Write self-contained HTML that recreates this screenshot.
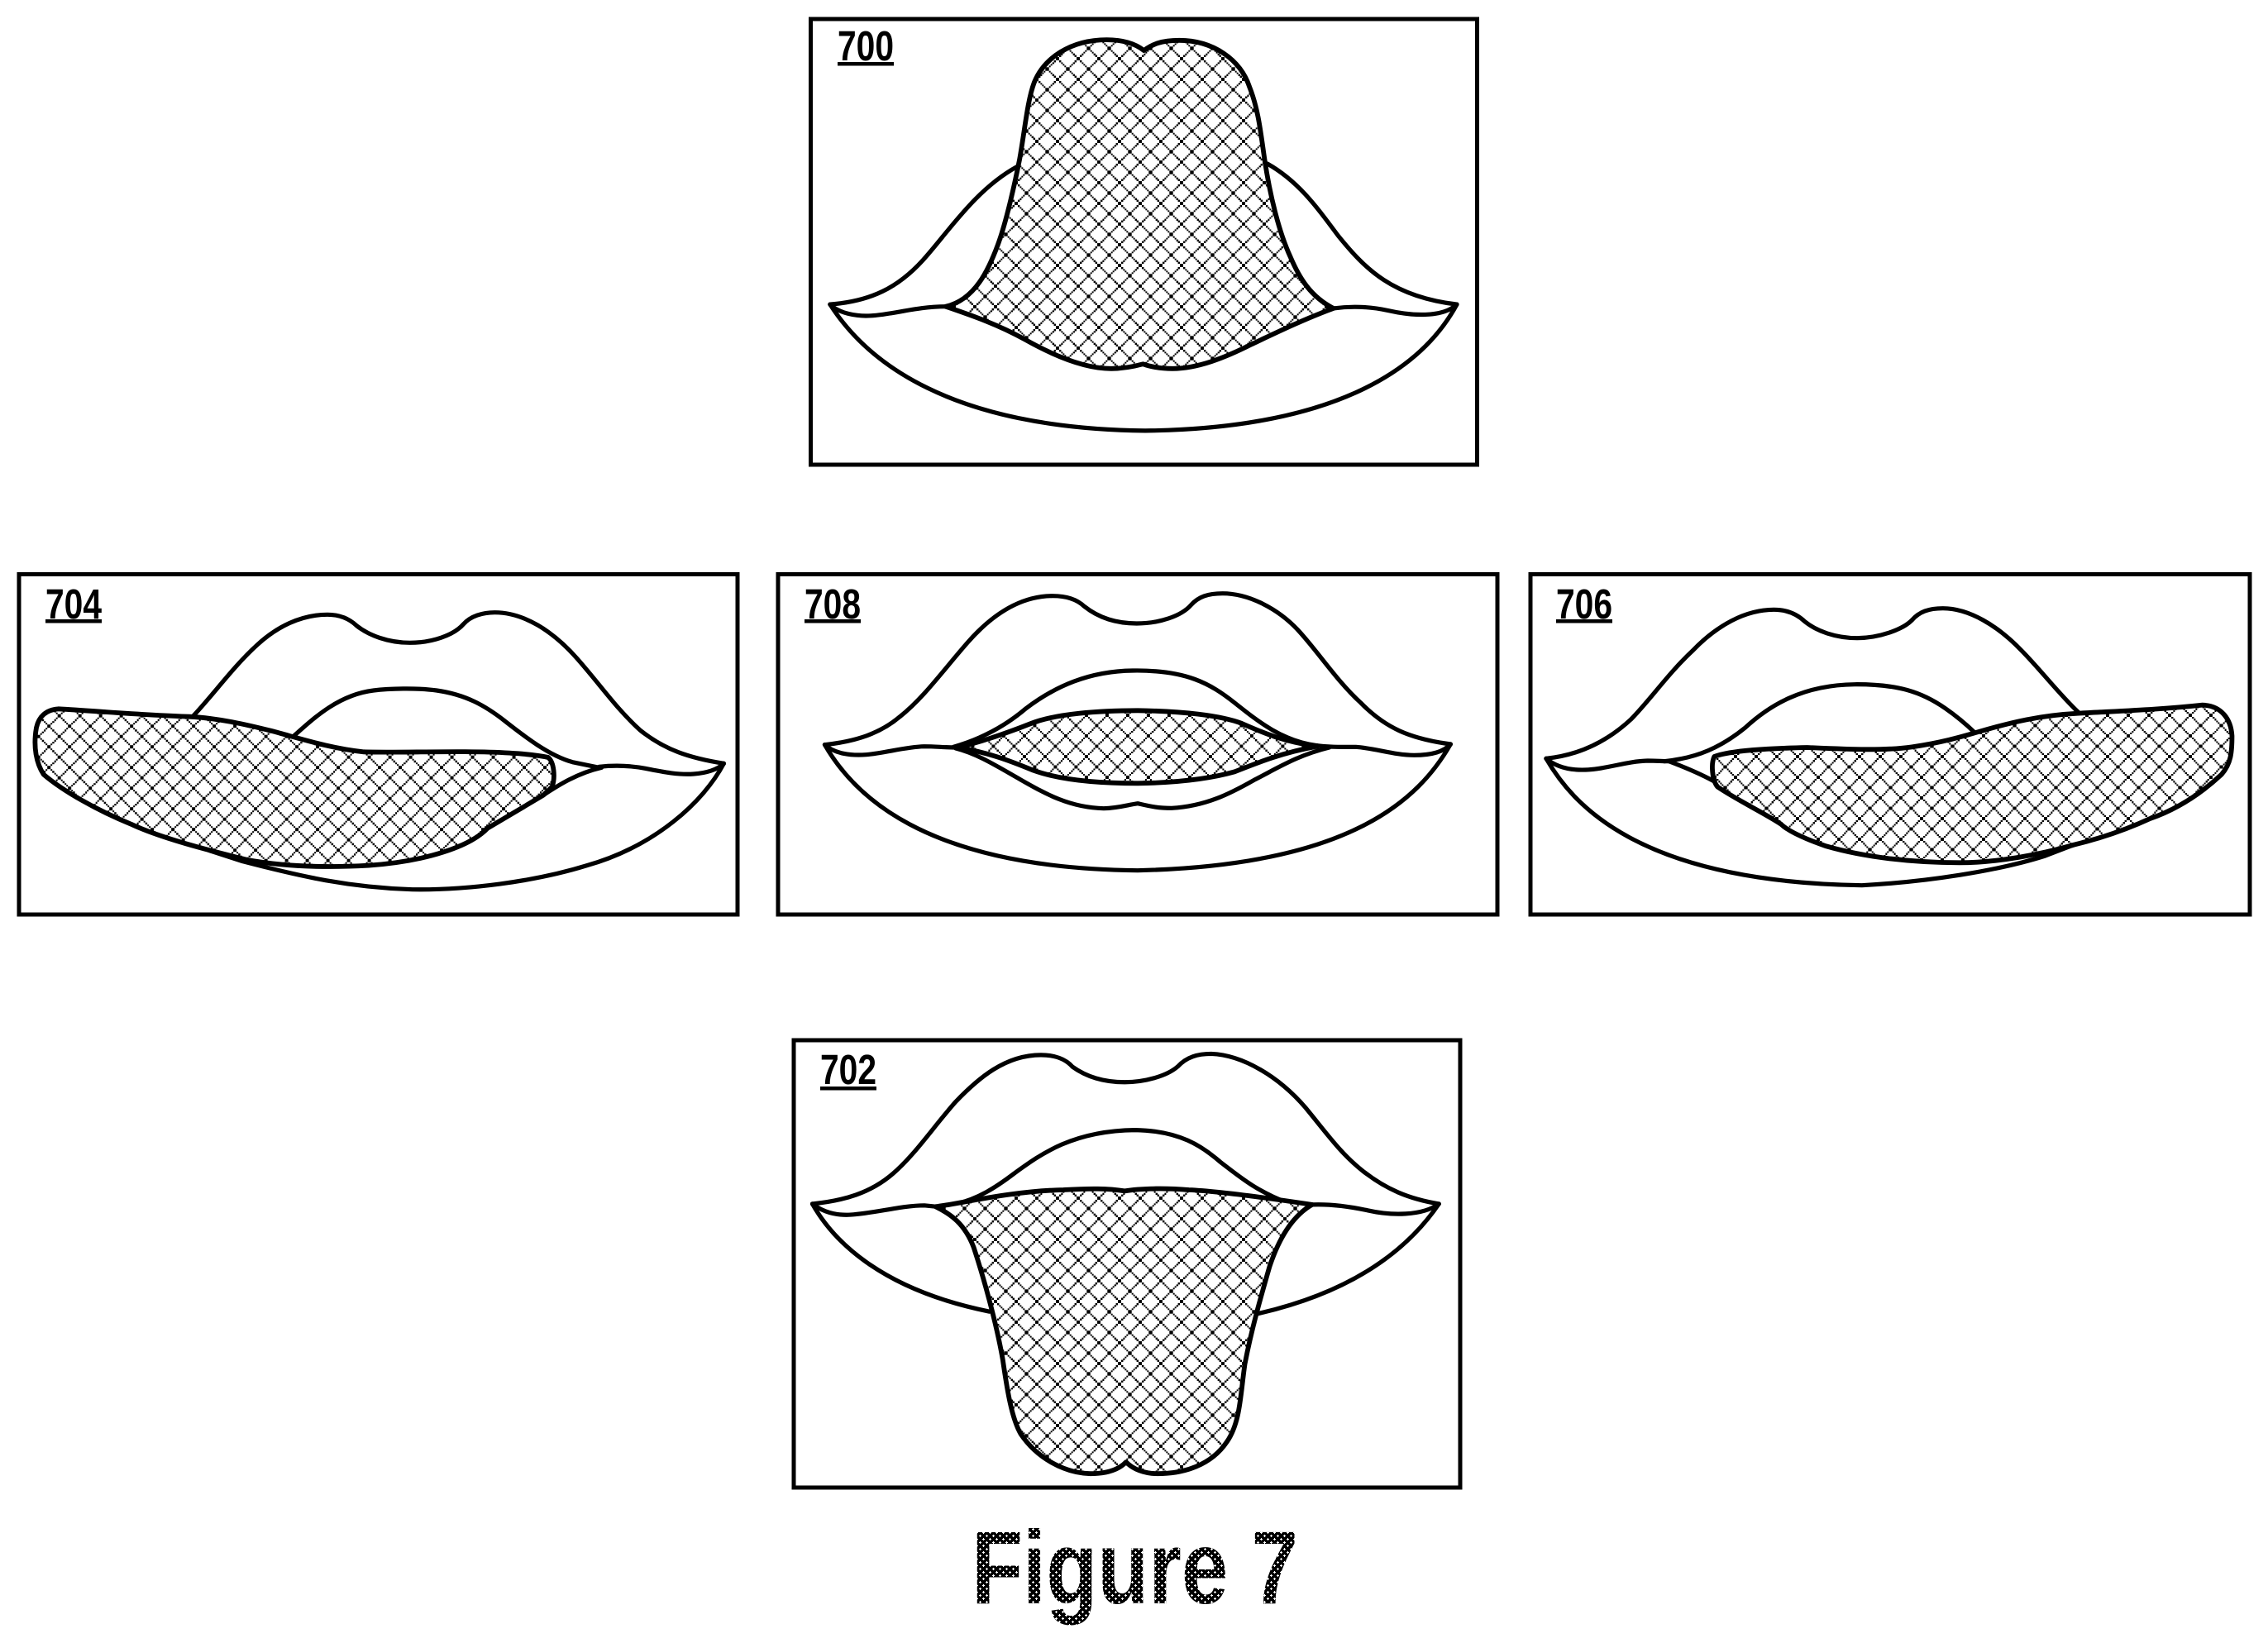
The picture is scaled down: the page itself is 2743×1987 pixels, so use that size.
<!DOCTYPE html>
<html><head><meta charset="utf-8"><style>
html,body{margin:0;padding:0;background:#fff}
svg{display:block}
.l path{fill:none;stroke:#000;stroke-width:5.2;stroke-linejoin:round;stroke-linecap:round;vector-effect:non-scaling-stroke}
.l path.t{stroke-width:5.8}
rect.f{fill:none;stroke:#000;stroke-width:5}
text{font-family:"Liberation Sans",sans-serif;font-weight:bold;fill:#000}
</style></head><body>
<svg xmlns="http://www.w3.org/2000/svg" width="2743" height="1987" viewBox="0 0 2743 1987">
<defs>
<g id="tile"><rect width="25" height="25" fill="#fff"/><path shape-rendering="crispEdges" fill="#000" d="M0,0h2.1v2.1h-2.1zM2.08,2.08h2.1v2.1h-2.1zM4.17,4.17h2.1v2.1h-2.1zM6.25,6.25h2.1v2.1h-2.1zM8.33,8.33h2.1v2.1h-2.1zM10.42,10.42h2.1v2.1h-2.1zM12.5,12.5h2.1v2.1h-2.1zM14.58,14.58h2.1v2.1h-2.1zM16.67,16.67h2.1v2.1h-2.1zM18.75,18.75h2.1v2.1h-2.1zM20.83,20.83h2.1v2.1h-2.1zM22.92,22.92h2.1v2.1h-2.1zM22.92,0h2.1v2.1h-2.1zM20.83,2.08h2.1v2.1h-2.1zM18.75,4.17h2.1v2.1h-2.1zM16.67,6.25h2.1v2.1h-2.1zM14.58,8.33h2.1v2.1h-2.1zM12.5,10.42h2.1v2.1h-2.1zM10.42,12.5h2.1v2.1h-2.1zM8.33,14.58h2.1v2.1h-2.1zM6.25,16.67h2.1v2.1h-2.1zM4.17,18.75h2.1v2.1h-2.1zM2.08,20.83h2.1v2.1h-2.1zM0,22.92h2.1v2.1h-2.1z"/></g>
<pattern id="p1" width="25" height="25" patternUnits="userSpaceOnUse" patternTransform="scale(1.823 2.703) translate(-6 21)"><use href="#tile"/></pattern>
<pattern id="p2" width="25" height="25" patternUnits="userSpaceOnUse" patternTransform="scale(1.704 3) translate(21.7 10.7)"><use href="#tile"/></pattern>
<pattern id="p3" width="25" height="25" patternUnits="userSpaceOnUse" patternTransform="scale(1.704 3) translate(9 10)"><use href="#tile"/></pattern>
<pattern id="p4" width="25" height="25" patternUnits="userSpaceOnUse" patternTransform="scale(1.736 3) translate(9 10)"><use href="#tile"/></pattern>
<pattern id="p5" width="25" height="25" patternUnits="userSpaceOnUse" patternTransform="scale(1.845 2.127) translate(4 24)"><use href="#tile"/></pattern>
<pattern id="fg" width="8" height="8" patternUnits="userSpaceOnUse"><rect width="8" height="8" fill="#000"/><path d="M1,0h1v1h1v1h-1v1h-1v-1h-1v-1h1zM5,4h1v1h1v1h-1v1h-1v-1h-1v-1h1z" fill="#fff"/></pattern>
</defs>
<rect width="2743" height="1987" fill="#fff"/>

<rect class="f" x="980.5" y="23" width="806" height="539"/>
<rect class="f" x="23" y="694.5" width="869" height="411.5"/>
<rect class="f" x="941" y="694.5" width="870" height="411.5"/>
<rect class="f" x="1851" y="694.5" width="870" height="411.5"/>
<rect class="f" x="960" y="1258" width="806" height="541"/>

<!-- 700 -->
<g class="l" transform="translate(960 0) scale(0.54855 0.36996)">
<path d="M80,995 C170,985 230,940 285,850 C340,760 400,620 492,545"/>
<path d="M1044,535 C1110,590 1150,670 1200,770 C1260,880 1320,970 1462,995"/>
<path d="M80,995 C100,1025 140,1035 170,1032 C220,1028 270,1002 335,1002"/>
<path d="M1190,1008 C1230,1000 1270,1002 1310,1015 C1360,1032 1430,1040 1462,995"/>
<path d="M80,995 C160,1180 340,1400 775,1408 C1180,1400 1380,1220 1462,995"/>
<path class="t" style="fill:url(#p1)" d="M335,1002 C400,980 430,880 450,800 C470,720 490,580 498,520 C510,420 515,330 530,270 C552,190 610,130 690,130 C730,130 755,145 772,165 C790,145 810,132 850,132 C925,132 985,195 1005,285 C1025,360 1030,440 1038,520 C1050,640 1070,760 1095,840 C1115,910 1140,970 1190,1008 C1130,1040 1060,1090 1010,1125 C950,1170 890,1205 835,1205 C805,1205 785,1198 770,1190 C750,1198 725,1205 700,1205 C640,1205 570,1160 510,1110 C450,1060 390,1030 335,1002Z"/>
</g>

<!-- 704 -->
<g class="l" transform="translate(0 680) scale(0.58673 0.33333)">
<path d="M397,560 C440,480 480,380 530,300 C570,235 620,190 675,190 C700,190 720,205 735,230 C760,265 800,292 845,292 C890,292 935,265 955,225 C970,195 995,182 1020,182 C1080,182 1140,250 1190,350 C1240,450 1270,530 1320,610 C1370,680 1420,710 1492,730"/>
<path d="M607,628 C650,560 700,480 770,465 C800,458 860,455 900,465 C960,480 1000,520 1040,575 C1080,630 1130,700 1180,725 L1235,745"/>
<path d="M1235,742 C1270,735 1300,738 1330,748 C1370,762 1400,772 1430,768 C1455,765 1480,752 1492,730"/>
<path d="M1240,745 C1190,765 1150,810 1120,845 L1005,965"/>
<path d="M1492,730 C1450,870 1350,1030 1210,1100 C1100,1160 960,1190 850,1187 C720,1180 620,1140 500,1085 L430,1045"/>
<path class="t" style="fill:url(#p2)" d="M120,532 C200,540 300,555 390,560 C450,565 510,590 560,612 C620,640 680,675 750,688 C820,692 960,682 1050,692 C1080,695 1110,700 1130,708 C1142,725 1145,780 1138,815 L1120,845 L1005,965 C970,1030 880,1085 760,1100 C680,1108 590,1105 510,1080 C430,1045 330,1000 270,950 C200,900 130,830 90,770 C75,730 68,670 75,600 C80,560 95,535 120,532Z"/>
</g>

<!-- 708 -->
<g class="l" transform="translate(930 680) scale(0.58673 0.33333)">
<path d="M115,662 C180,650 230,620 270,560 C320,490 360,390 410,290 C450,210 510,122 585,122 C615,122 635,135 650,160 C675,195 710,222 758,222 C805,222 850,195 870,155 C885,125 905,113 935,113 C990,113 1050,170 1090,245 C1130,320 1170,430 1220,510 C1270,600 1320,640 1405,660"/>
<path d="M380,670 C440,640 490,590 530,530 C590,450 660,395 750,393 C860,390 910,440 960,510 C1010,580 1060,650 1130,665"/>
<path d="M115,662 C135,695 170,702 200,698 C240,692 280,670 320,668 C345,668 360,672 385,672"/>
<path d="M1130,665 C1160,672 1190,670 1210,670 C1250,675 1290,700 1330,700 C1360,700 1390,690 1405,660"/>
<path d="M385,675 C430,695 470,740 520,790 C570,840 620,890 690,893 C720,892 740,880 760,875 C785,885 800,892 830,892 C900,885 950,840 1000,790 C1050,745 1090,700 1155,672"/>
<path d="M115,662 C170,830 310,1110 760,1118 C1200,1100 1340,860 1405,660"/>
<path class="t" style="fill:url(#p3)" d="M390,672 C440,650 490,620 540,585 C590,550 680,538 760,538 C850,540 930,555 975,585 C1020,620 1060,650 1130,668 C1060,690 1010,725 960,760 C900,790 830,800 760,802 C680,802 600,790 545,755 C490,715 450,690 390,672Z"/>
</g>

<!-- 706 -->
<g class="l" transform="translate(1840 680) scale(0.57604 0.33333)">
<path d="M52,712 C120,700 180,650 230,570 C270,500 310,400 360,320 C410,230 470,172 530,172 C560,172 580,190 595,215 C620,250 660,275 705,275 C750,275 800,245 820,210 C835,180 855,167 885,167 C940,167 1000,230 1050,320 C1090,390 1130,480 1170,545"/>
<path d="M300,722 C370,710 420,670 470,600 C520,520 590,445 700,443 C790,442 840,470 890,530 C915,560 935,590 952,618"/>
<path d="M52,712 C75,745 105,755 135,753 C180,750 220,722 265,720 C285,720 295,722 310,722"/>
<path d="M310,722 C345,745 380,770 410,800"/>
<path d="M52,712 C105,870 240,1160 715,1172 C850,1160 1000,1120 1100,1065 L1160,1025"/>
<path class="t" style="fill:url(#p4)" d="M405,705 C440,682 520,675 600,672 C680,678 760,685 820,670 C880,655 920,635 960,615 C1030,580 1090,555 1170,548 C1250,540 1340,535 1430,518 C1470,520 1490,570 1492,630 C1492,690 1490,730 1470,770 C1420,850 1370,900 1320,930 C1270,970 1220,1000 1160,1025 C1090,1060 1000,1090 920,1090 C820,1090 720,1070 640,1030 C590,1000 560,975 545,950 C510,910 450,860 412,815 C400,790 398,730 405,705Z"/>
</g>

<!-- 702 -->
<g class="l" transform="translate(950 1250) scale(0.54201 0.47015)">
<path d="M60,438 C130,430 190,410 240,360 C290,310 330,240 380,175 C430,115 490,55 570,55 C600,55 625,65 640,85 C670,110 710,125 757,125 C800,125 850,110 875,85 C895,60 920,52 950,52 C1020,55 1100,110 1160,190 C1210,260 1240,310 1290,355 C1340,400 1390,425 1458,438"/>
<path d="M380,438 C430,425 470,395 510,360 C570,310 640,250 780,248 C880,250 930,290 970,330 C1010,365 1050,405 1120,435"/>
<path d="M60,438 C85,460 115,468 145,466 C200,462 260,442 310,442 L335,445"/>
<path d="M1175,440 C1220,438 1260,445 1300,455 C1350,468 1420,470 1458,438"/>
<path d="M60,438 C110,540 220,660 455,715"/>
<path d="M1048,722 C1250,670 1380,570 1458,438"/>
<path class="t" style="fill:url(#p5)" d="M335,445 C380,440 500,405 620,402 C680,398 720,398 757,405 C790,398 850,397 900,402 C960,405 1060,420 1175,440 C1130,470 1100,530 1080,600 C1060,680 1040,760 1025,850 C1015,930 1015,1000 985,1050 C950,1110 890,1132 830,1132 C800,1132 775,1120 760,1102 C745,1120 720,1132 680,1132 C620,1130 560,1090 525,1030 C505,990 495,920 485,840 C470,740 440,620 420,550 C400,490 370,465 335,445Z"/>
</g>

<!-- labels -->
<text x="1013" y="73" font-size="51" textLength="68" lengthAdjust="spacingAndGlyphs">700</text>
<rect x="1013" y="75" width="68" height="4.5"/>
<text x="55" y="748" font-size="51" textLength="68" lengthAdjust="spacingAndGlyphs">704</text>
<rect x="55" y="749" width="68" height="4.5"/>
<text x="973" y="748" font-size="51" textLength="68" lengthAdjust="spacingAndGlyphs">708</text>
<rect x="973" y="749" width="68" height="4.5"/>
<text x="1882" y="748" font-size="51" textLength="68" lengthAdjust="spacingAndGlyphs">706</text>
<rect x="1882" y="749" width="68" height="4.5"/>
<text x="992" y="1311" font-size="51" textLength="68" lengthAdjust="spacingAndGlyphs">702</text>
<rect x="992" y="1314" width="68" height="4.5"/>

<text x="1175" y="1939" font-size="125" textLength="395" lengthAdjust="spacingAndGlyphs" style="fill:url(#fg)">Figure 7</text>
</svg>
</body></html>
